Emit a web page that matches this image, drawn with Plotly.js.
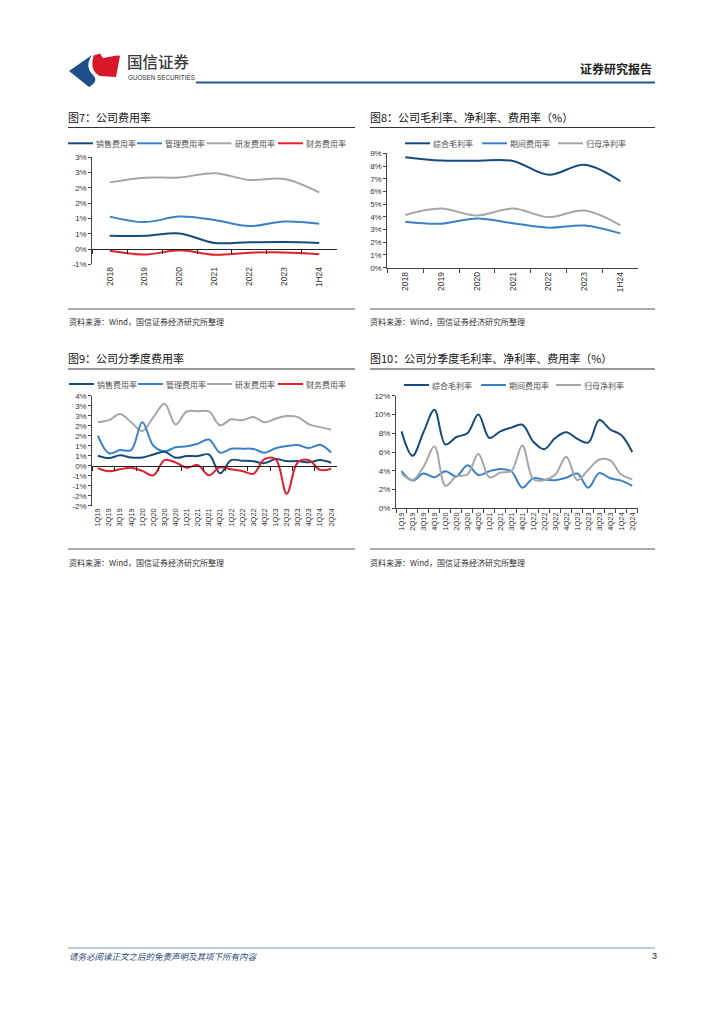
<!DOCTYPE html>
<html><head><meta charset="utf-8">
<script src="https://cdn.plot.ly/plotly-3.0.1.min.js"></script>
<style>
body{margin:0;background:#fff}
#page{position:relative;width:724px;height:1024px;overflow:hidden}
#chart{position:absolute;left:0;top:0;width:724px;height:1024px}
#logo{position:absolute;left:66px;top:50px}
</style>
</head><body>
<div id="page"><div id="chart"></div>
<svg id="logo" width="60" height="40" viewBox="0 0 60 40">
  <path d="M3,21 L26,5 C20,14 22,20 27,25 C31,29 30,33 23,37 Z" fill="#1d4f8b"/>
  <path d="M27.5,5.5 L34,3.5 L37,8 L51,5.5 L54,5.8 L50,27 L34,26 C30,24.5 27,20 26.5,16 C26,12 27,9 27.5,5.5 Z" fill="#d7182a"/>
</svg>
</div>
<script>
// ---------- DATA ----------
const years = ['2018','2019','2020','2021','2022','2023','1H24'];
const quarters = ['1Q19','2Q19','3Q19','4Q19','1Q20','2Q20','3Q20','4Q20','1Q21','2Q21','3Q21','4Q21',
                  '1Q22','2Q22','3Q22','4Q22','1Q23','2Q23','3Q23','4Q23','1Q24','2Q24'];

// Fig 7 annual expense ratios (%)
const f7Names = ['销售费用率','管理费用率','研发费用率','财务费用率'];
const f7Sales = [0.43, 0.43, 0.51, 0.20, 0.22, 0.23, 0.20];
const f7Admin = [1.06, 0.88, 1.06, 0.95, 0.75, 0.90, 0.83];
const f7RD    = [2.18, 2.33, 2.34, 2.48, 2.26, 2.29, 1.85];
const f7Fin   = [-0.06, -0.18, -0.04, -0.19, -0.12, -0.11, -0.17];
const f7TickVals = [3, 2.5, 2, 1.5, 1, 0.5, 0, -0.5];
const f7TickText = ['3%','3%','2%','2%','1%','1%','0%','-1%'];

// Fig 8 annual margins (%)
const f8Names = ['综合毛利率','期间费用率','归母净利率'];
const f8Gross = [8.69, 8.43, 8.42, 8.40, 7.31, 8.10, 6.80];
const f8Exp   = [3.62, 3.46, 3.88, 3.50, 3.15, 3.32, 2.70];
const f8Net   = [4.15, 4.65, 4.10, 4.65, 3.98, 4.50, 3.33];
const f8TickVals = [0,1,2,3,4,5,6,7,8,9];
const f8TickText = ['0%','1%','2%','3%','4%','5%','6%','7%','8%','9%'];

// Fig 9 quarterly expense ratios (%)
const f9Names = ['销售费用率','管理费用率','研发费用率','财务费用率'];
const f9Sales = [0.50, 0.38, 0.52, 0.41, 0.41, 0.56, 0.70, 0.40, 0.48, 0.48, 0.56, -0.38,
                 0.28, 0.25, 0.22, 0.13, 0.33, 0.23, 0.23, 0.17, 0.28, 0.15];
const f9Admin = [1.50, 0.62, 0.78, 0.78, 2.17, 1.00, 0.72, 0.92, 0.97, 1.10, 1.31, 0.65,
                 0.85, 0.85, 0.84, 0.65, 0.87, 0.98, 1.03, 0.88, 1.05, 0.66];
const f9RD    = [2.18, 2.28, 2.58, 2.17, 1.73, 2.43, 3.10, 2.06, 2.71, 2.72, 2.72, 2.02,
                 2.32, 2.27, 2.43, 2.17, 2.35, 2.48, 2.43, 2.07, 1.93, 1.80];
const f9Fin   = [-0.13, -0.28, -0.18, -0.10, -0.26, -0.48, 0.28, 0.16, -0.10, 0.03, -0.48, -0.08,
                 -0.18, -0.26, -0.41, 0.33, 0.33, -1.40, 0.17, 0.28, -0.21, -0.15];
const f9TickVals = [3.5, 3, 2.5, 2, 1.5, 1, 0.5, 0, -0.5, -1, -1.5, -2];
const f9TickText = ['4%','3%','3%','2%','2%','1%','1%','0%','-1%','-1%','-2%','-2%'];

// Fig 10 quarterly margins (%)
const f10Names = ['综合毛利率','期间费用率','归母净利率'];
const f10Gross = [8.2, 5.6, 8.1, 10.5, 6.8, 7.6, 8.0, 10.0, 7.5, 8.2, 8.6, 8.9,
                  7.1, 6.3, 7.5, 8.1, 7.4, 7.0, 9.4, 8.4, 7.8, 6.0];
const f10Exp   = [3.95, 2.95, 3.70, 3.30, 3.95, 3.40, 4.60, 3.55, 3.95, 4.20, 3.95, 2.20,
                  3.20, 3.05, 3.00, 3.25, 3.70, 2.20, 3.75, 3.20, 2.95, 2.40];
const f10Net   = [3.7, 3.0, 4.4, 6.6, 2.4, 3.4, 3.6, 5.8, 3.3, 3.8, 4.0, 6.7,
                  3.1, 3.0, 3.6, 5.5, 3.0, 4.1, 5.2, 5.1, 3.6, 3.1];
const f10TickVals = [0,2,4,6,8,10,12];
const f10TickText = ['0%','2%','4%','6%','8%','10%','12%'];

// ---------- STYLE / LAYOUT ----------
const W = 724, H = 1024;
const PX = x => x / W, PY = y => 1 - y / H;
const C_DARK = '#174b7d', C_LIGHT = '#3b82c4', C_GRAY = '#a6a6a6', C_RED = '#e01f2d';
const LAT = 'Liberation Sans, Arial, sans-serif';
const CJK = 'Noto Sans CJK SC, sans-serif';

const shapes = [];
const annotations = [];
function hline(x0, x1, y, color, width) {
  shapes.push({type:'line', xref:'paper', yref:'paper', x0:PX(x0), x1:PX(x1), y0:PY(y), y1:PY(y),
               line:{color:color, width:width}});
}
function txt(text, x, y, size, color, opts) {
  annotations.push(Object.assign({text:text, x:PX(x), y:PY(y), xref:'paper', yref:'paper',
    xanchor:'left', yanchor:'middle', showarrow:false, borderpad:0,
    font:{size:size, color:color, family:CJK}}, opts || {}));
}
function legend(names, colors, y, lineStarts) {
  names.forEach((n, i) => {
    const x0 = lineStarts[i];
    hline(x0, x0 + 25, y, colors[i], 2);
    txt(n, x0 + 27, y, 8, '#505050');
  });
}

// header
txt('国信证券', 126, 61, 15.5, '#333333', {font:{size:15.5, color:'#3a3a3a', family:CJK, weight:500}});
txt('GUOSEN SECURITIES', 127, 77, 6.3, '#333333', {font:{size:6.3, color:'#333', family:LAT}});
txt('证券研究报告', 579, 68.5, 12, '#222222', {font:{size:12, color:'#222', family:CJK, weight:700}});
hline(196, 655, 82.5, '#1f5795', 2.2);

// section titles
txt('图7：公司费用率', 67, 117, 11, '#111');
txt('图8：公司毛利率、净利率、费用率（%）', 369, 117, 11, '#111');
txt('图9：公司分季度费用率', 67, 358, 11, '#111');
txt('图10：公司分季度毛利率、净利率、费用率（%）', 369, 358, 11, '#111');
hline(68, 355, 127.5, '#333', 1);
hline(370, 655, 127.5, '#333', 1);
hline(68, 355, 369, '#333', 1);
hline(370, 655, 369, '#333', 1);
// bottom rules + sources
hline(68, 355, 309, '#8c8c8c', 1.5);
hline(370, 655, 309, '#8c8c8c', 1.5);
hline(68, 355, 549, '#8c8c8c', 1.5);
hline(370, 655, 549, '#8c8c8c', 1.5);
txt('资料来源：Wind，国信证券经济研究所整理', 68, 321, 8, '#333');
txt('资料来源：Wind，国信证券经济研究所整理', 369, 321, 8, '#333');
txt('资料来源：Wind，国信证券经济研究所整理', 68, 562, 8, '#333');
txt('资料来源：Wind，国信证券经济研究所整理', 369, 562, 8, '#333');
// footer
hline(68, 655, 948, '#5a7fa8', 0.8);
txt('请务必阅读正文之后的免责声明及其项下所有内容', 68, 956, 8.5, '#2b4a78', {font:{size:8.5, color:'#2b4a78', family:CJK, style:'italic'}});
txt('3', 651, 956, 9, '#222', {font:{size:9, color:'#222', family:LAT}});

// legends
legend(f7Names, [C_DARK, C_LIGHT, C_GRAY, C_RED], 143.3, [68, 137, 206.5, 278]);
legend(f8Names, [C_DARK, C_LIGHT, C_GRAY], 143.3, [405, 482, 558]);
legend(f9Names, [C_DARK, C_LIGHT, C_GRAY, C_RED], 384, [69, 138, 207, 278]);
legend(f10Names, [C_DARK, C_LIGHT, C_GRAY], 385, [404, 481, 556]);

// axes geometry (pixel boxes)
const boxes = {
  c7:  {x0:92.3, x1:336.7, y0:157.3, y1:264.3, r:[-0.5, 3]},
  c8:  {x0:387.3, x1:638.3, y0:153.3, y1:267.7, r:[0, 9]},
  c9:  {x0:92.3, x1:336.7, y0:395.7, y1:505.7, r:[-2, 3.5]},
  c10: {x0:396, x1:637.7, y0:395.7, y1:508.3, r:[0, 12]}
};
function xdom(b){ return [PX(b.x0), PX(b.x1)]; }
function ydom(b){ return [PY(b.y1), PY(b.y0)]; }
function zeroPos(b){ const d = ydom(b); return d[0] + (0 - b.r[0]) / (b.r[1] - b.r[0]) * (d[1] - d[0]); }

const tickFont = {size:8, color:'#333', family:LAT};
function yax(b, vals, text, anchor) {
  return {domain:ydom(b), range:b.r, anchor:anchor, tickmode:'array', tickvals:vals, ticktext:text,
          showgrid:false, zeroline:false, showline:true, linecolor:'#444', linewidth:1,
          ticks:'outside', ticklen:3, tickcolor:'#444', tickfont:tickFont, fixedrange:true};
}
function xaxLabels(b, cats, anchor, withLine, fsize) {
  return {domain:xdom(b), anchor:anchor, type:'category', categoryorder:'array', categoryarray:cats,
          range:[-0.5, cats.length - 0.5], showgrid:false, zeroline:false,
          showline:withLine, linecolor:'#444', linewidth:1,
          ticks:withLine ? 'outside' : '', ticklen:4, tickcolor:'#444', tickson:'boundaries',
          tickangle:-90, tickfont:{size:fsize, color:'#333', family:LAT}, fixedrange:true};
}
function xaxZero(b, cats, over) {
  return {overlaying:over, anchor:'free', position:zeroPos(b), type:'category', categoryorder:'array',
          categoryarray:cats, range:[-0.5, cats.length - 0.5], showgrid:false, zeroline:false,
          showline:true, linecolor:'#222', linewidth:1, ticks:'outside', ticklen:4, tickcolor:'#222',
          tickson:'boundaries', showticklabels:false, fixedrange:true};
}

function tr(x, y, name, color, xa, ya) {
  return {x:x, y:y, name:name, type:'scatter', mode:'lines', xaxis:xa, yaxis:ya, showlegend:false,
          line:{color:color, width:2, shape:'spline', smoothing:1}, hoverinfo:'x+y+name'};
}

const data = [
  tr(years, f7RD, f7Names[2], C_GRAY, 'x', 'y'),
  tr(years, f7Admin, f7Names[1], C_LIGHT, 'x', 'y'),
  tr(years, f7Sales, f7Names[0], C_DARK, 'x', 'y'),
  tr(years, f7Fin, f7Names[3], C_RED, 'x5', 'y'),

  tr(years, f8Gross, f8Names[0], C_DARK, 'x2', 'y2'),
  tr(years, f8Net, f8Names[2], C_GRAY, 'x2', 'y2'),
  tr(years, f8Exp, f8Names[1], C_LIGHT, 'x2', 'y2'),

  tr(quarters, f9RD, f9Names[2], C_GRAY, 'x3', 'y3'),
  tr(quarters, f9Admin, f9Names[1], C_LIGHT, 'x3', 'y3'),
  tr(quarters, f9Sales, f9Names[0], C_DARK, 'x3', 'y3'),
  tr(quarters, f9Fin, f9Names[3], C_RED, 'x6', 'y3'),

  tr(quarters, f10Gross, f10Names[0], C_DARK, 'x4', 'y4'),
  tr(quarters, f10Exp, f10Names[1], C_LIGHT, 'x4', 'y4'),
  tr(quarters, f10Net, f10Names[2], C_GRAY, 'x4', 'y4')
];

const layout = {
  width:W, height:H, margin:{l:0, r:0, t:0, b:0}, paper_bgcolor:'#fff', plot_bgcolor:'rgba(0,0,0,0)',
  showlegend:false, font:{family:LAT, color:'#333'},
  xaxis:  xaxLabels(boxes.c7, years, 'y', false, 8.5),
  yaxis:  yax(boxes.c7, f7TickVals, f7TickText, 'x'),
  xaxis5: xaxZero(boxes.c7, years, 'x'),
  xaxis2: xaxLabels(boxes.c8, years, 'y2', true, 8.5),
  yaxis2: yax(boxes.c8, f8TickVals, f8TickText, 'x2'),
  xaxis3: xaxLabels(boxes.c9, quarters, 'y3', false, 7.5),
  yaxis3: yax(boxes.c9, f9TickVals, f9TickText, 'x3'),
  xaxis6: xaxZero(boxes.c9, quarters, 'x3'),
  xaxis4: xaxLabels(boxes.c10, quarters, 'y4', true, 7.5),
  yaxis4: yax(boxes.c10, f10TickVals, f10TickText, 'x4'),
  shapes:shapes, annotations:annotations
};

Plotly.newPlot('chart', data, layout, {displayModeBar:false, staticPlot:true});
</script>
</body></html>
